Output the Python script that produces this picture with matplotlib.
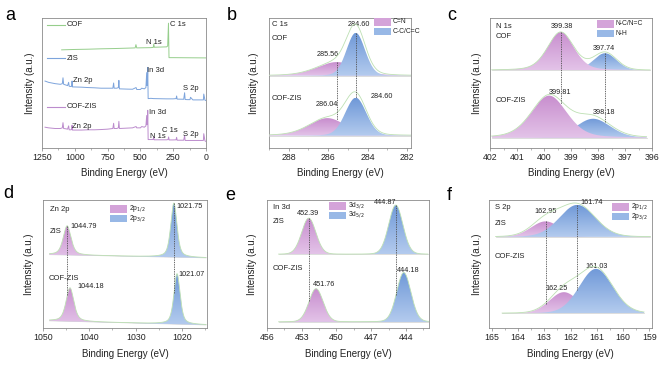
import numpy as np
import matplotlib
matplotlib.use("Agg")
import matplotlib.pyplot as plt
from matplotlib.colors import LinearSegmentedColormap
from matplotlib.patches import PathPatch, Rectangle
from matplotlib.path import Path

plt.rcParams['font.family'] = ['Liberation Sans', 'DejaVu Sans']

# --- (a) survey spectra: binding energy (eV) / intensity (a.u.) ---
SURVEY_NAMES = ['COF', 'ZIS', 'COF-ZIS']
COF_E = [1100, 1000, 900, 800, 700, 600, 540, 534, 528, 420, 402, 398, 394, 300, 292, 286, 282, 250, 0]
COF_I = [75.5, 75.8, 76.0, 76.3, 76.5, 76.8, 77.0, 79.5, 77.0, 77.2, 77.4, 80.0, 77.5, 77.8, 78.5, 96.0, 69.5, 69.5, 69.3]
ZIS_E = [1227, 1200, 1150, 1110, 1095, 1090, 1085, 1070, 1055, 1047, 1043, 1030, 1024, 1021, 1018,
         950, 900, 850, 800, 750, 710, 704, 700, 680, 668, 664, 660, 600, 560, 533, 528, 500, 490,
         470, 458, 452, 449, 446, 444, 441, 420, 400, 300, 250, 228, 224, 220, 170, 163, 159, 140,
         122, 118, 100, 30, 20, 17, 8, 0]
ZIS_I = [51.5, 50.5, 49.5, 49.0, 49.5, 54.0, 49.0, 48.5, 48.0, 50.5, 47.5, 47.3, 47.5, 51.5, 47.0,
         46.8, 46.5, 46.3, 46.0, 46.0, 46.0, 50.0, 46.0, 46.0, 46.5, 52.0, 45.5, 45.3, 45.2, 46.5, 45.0, 45.0, 46.0,
         45.5, 46.5, 58.0, 48.0, 52.0, 62.0, 38.0, 38.2, 38.0, 37.8, 37.8, 38.0, 40.0, 37.6, 37.5, 42.5, 37.3, 37.2,
         37.2, 39.0, 37.0, 37.0, 37.0, 41.5, 36.8, 36.5]
CZ_E = [1227, 1200, 1150, 1110, 1095, 1090, 1085, 1070, 1055, 1047, 1043, 1030, 1024, 1021, 1018,
        950, 900, 850, 800, 750, 710, 704, 700, 680, 668, 664, 660, 600, 560, 533, 528, 500, 490,
        470, 458, 452, 449, 446, 444, 441, 420, 403, 399, 395, 300, 289, 285, 281, 250, 228, 224, 220,
        170, 163, 159, 140, 30, 20, 17, 8, 0]
CZ_I = [16.0, 15.5, 15.0, 15.0, 15.5, 19.5, 15.0, 14.8, 14.5, 17.0, 14.0, 14.0, 14.2, 17.5, 13.8,
        13.8, 14.0, 14.0, 14.2, 14.5, 15.0, 19.0, 15.0, 15.0, 15.5, 20.5, 15.0, 15.3, 15.5, 16.5, 15.5, 15.5, 16.5,
        16.0, 17.0, 25.0, 18.0, 20.0, 29.0, 6.5, 6.5, 6.5, 8.5, 6.3, 6.3, 6.5, 8.5, 6.2, 6.2, 6.3, 8.2, 6.0,
        6.0, 9.5, 5.8, 5.8, 5.8, 5.8, 11.0, 5.5, 5.0]
SURVEY_TICKS = [1250, 1000, 750, 500, 250, 0]

# --- (b)-(f) fitted high resolution spectra: [top sample, bottom sample] x [pink, blue] ---
C1S_SAMPLES = ['COF', 'COF-ZIS']
C1S_LABELS = ['C=N', 'C-C/C=C']
C1S_CENTERS = [[285.56, 284.60], [286.04, 284.60]]
C1S_HEIGHTS = [[10.5, 33.0], [13.5, 29.2]]
C1S_FWHM = [[2.4, 1.1], [2.2, 1.25]]
C1S_ETA = [[0.3, 0.1], [0.3, 0.1]]
C1S_BG = [[55.6, 55.6], [9.5, 9.5]]
C1S_RANGE = [[289.0, 281.8], [289.0, 281.8]]
C1S_TICKS = [288, 286, 284, 282]

N1S_SAMPLES = ['COF', 'COF-ZIS']
N1S_LABELS = ['N-C/N=C', 'N-H']
N1S_CENTERS = [[399.38, 397.74], [399.81, 398.18]]
N1S_HEIGHTS = [[29.5, 13.2], [32.5, 14.7]]
N1S_FWHM = [[1.15, 1.0], [1.55, 1.5]]
N1S_ETA = [[0.3, 0.1], [0.3, 0.2]]
N1S_BG = [[59.7, 59.7], [7.8, 7.8]]
N1S_RANGE = [[401.94, 396.07], [401.94, 396.2]]
N1S_TICKS = [402, 401, 400, 399, 398, 397, 396]

ZN_SAMPLES = ['ZIS', 'COF-ZIS']
ZN_LABELS = ['2p$_{1/2}$', '2p$_{3/2}$']
ZN_CENTERS = [[1044.79, 1021.75], [1044.18, 1021.07]]
ZN_HEIGHTS = [[22.8, 42.3], [26.2, 39.4]]
ZN_FWHM = [[2.0, 1.6], [2.0, 1.6]]
ZN_ETA = [[0.5, 0.5], [0.5, 0.5]]
ZN_BG = [[57.3, 54.8], [5.6, 2.4]]
ZN_RANGE = [[1048.6, 1014.8], [1048.6, 1014.8]]
ZN_TICKS = [1050, 1040, 1030, 1020]

IN_SAMPLES = ['ZIS', 'COF-ZIS']
IN_LABELS = ['3d$_{3/2}$', '3d$_{5/2}$']
IN_CENTERS = [[452.39, 444.87], [451.76, 444.18]]
IN_HEIGHTS = [[28.3, 38.5], [26.0, 38.6]]
IN_FWHM = [[1.45, 1.45], [1.45, 1.45]]
IN_ETA = [[0.1, 0.1], [0.1, 0.1]]
IN_BG = [[57.5, 57.5], [4.7, 4.7]]
IN_RANGE = [[455.0, 442.1], [455.0, 442.0]]
IN_TICKS = [456, 453, 450, 447, 444]

S_SAMPLES = ['ZIS', 'COF-ZIS']
S_LABELS = ['2p$_{1/2}$', '2p$_{3/2}$']
S_CENTERS = [[162.95, 161.74], [162.25, 161.03]]
S_HEIGHTS = [[12.1, 25.0], [16.6, 34.8]]
S_FWHM = [[1.3, 1.6], [1.3, 1.5]]
S_ETA = [[0.1, 0.1], [0.1, 0.1]]
S_BG = [[71.2, 71.2], [11.4, 11.4]]
S_RANGE = [[164.85, 158.96], [164.6, 159.2]]
S_TICKS = [165, 164, 163, 162, 161, 160, 159]

# --- colours ---
PINK_TOP, PINK_BOT = '#C88ECE', '#E3C3E8'
BLUE_TOP, BLUE_BOT = '#7099D8', '#B3CBEE'
PINK_LEG, BLUE_LEG = '#D4A3D9', '#98B8E6'
ENV_C = '#BDE0B3'
SURVEY_COLORS = ['#96CE8C', '#7DA4DC', '#BC8CCD']

W, H = 667, 369
fig = plt.figure(figsize=(W / 100, H / 100), dpi=100)


def add_axes(frame):
    l, t, r, b = frame
    return fig.add_axes([l / W, 1 - b / H, (r - l) / W, (b - t) / H])


def put(ax, frame, x, y, s, size=5.5, ha='left', color='#222222'):
    l, t, r, b = frame
    ax.text((x - l) / (r - l), (b - y) / (b - t), s, transform=ax.transAxes,
            fontsize=size, ha=ha, va='center', color=color, clip_on=False)


def style(ax, frame, xlim, ticks, minor, ylab_x):
    ax.set_xlim(*xlim)
    ax.set_ylim(0, 100)
    ax.set_xticks(ticks)
    ax.set_xticklabels([str(t) for t in ticks])
    ax.set_xticks(minor, minor=True)
    ax.set_yticks([])
    ax.tick_params(axis='x', which='major', length=2.2, width=0.5, direction='out',
                   labelsize=6.3, pad=1.5, color='#808080', labelcolor='#222222')
    ax.tick_params(axis='x', which='minor', length=1.3, width=0.4, direction='out', color='#808080')
    for s in ax.spines.values():
        s.set_linewidth(0.6)
        s.set_color('#8A8A8A')
    l, t, r, b = frame
    yl = 173 if b < 200 else 354
    fig.text((l + r) / 2 / W, 1 - yl / H, 'Binding Energy (eV)', fontsize=7,
             ha='center', va='center', color='#222222')
    fig.text(ylab_x / W, 1 - (t + b) / 2 / H, 'Intensity (a.u.)', fontsize=7,
             rotation=90, ha='center', va='center', color='#222222')


def pv(x, c, h, w, eta):
    d = (x - c) / w
    return h * (eta / (1 + 4 * d ** 2) + (1 - eta) * np.exp(-4 * np.log(2) * d ** 2))


def grad_fill(ax, x, lo, hi, ctop, cbot, z):
    verts = np.concatenate([np.column_stack([x, hi]), np.column_stack([x[::-1], lo[::-1]])])
    patch = PathPatch(Path(verts), facecolor='none', edgecolor='none', transform=ax.transData)
    ax.add_patch(patch)
    cmap = LinearSegmentedColormap.from_list('g', [cbot, ctop])
    im = ax.imshow(np.linspace(0, 1, 64)[:, None], cmap=cmap, origin='lower', aspect='auto',
                   extent=[x.min(), x.max(), lo.min(), hi.max()], zorder=z, interpolation='bilinear')
    im.set_clip_path(patch)


def spectrum(ax, rng, bg, cs, hs, ws, es, base_z):
    x = np.linspace(rng[0], rng[1], 600)
    b = bg[0] + (bg[1] - bg[0]) * (x - rng[0]) / (rng[1] - rng[0])
    comps = [pv(x, c, h, w, e) for c, h, w, e in zip(cs, hs, ws, es)]
    order = np.argsort(hs)
    cols = [(PINK_TOP, PINK_BOT), (BLUE_TOP, BLUE_BOT)]
    ax.plot(x, b, color='#CFCFCF', lw=0.5, zorder=base_z)
    for k, i in enumerate(order):
        grad_fill(ax, x, b, b + comps[i], cols[i][0], cols[i][1], base_z + 1 + k)
    ax.plot(x, b + sum(comps), color=ENV_C, lw=0.6, zorder=base_z + 4)


def bg_at(rng, bg, x):
    return bg[0] + (bg[1] - bg[0]) * (x - rng[0]) / (rng[1] - rng[0])


def fitted_panel(frame, xlim, ticks, minor, ylab_x, letter, letter_xy, samples, labels,
                 centers, heights, fwhm, eta, bg, rng, title_xy, sample_xy, value_xy, value_ha,
                 leg_xy):
    ax = add_axes(frame)
    for s in range(2):
        spectrum(ax, rng[s], bg[s], centers[s], heights[s], fwhm[s], eta[s], 2 + s * 6)
    # dashed guide lines through the top-sample peak positions
    for k in range(2):
        c = centers[0][k]
        y0 = bg_at(rng[0], bg[0], c) + pv(c, centers[0][k], heights[0][k], fwhm[0][k], eta[0][k])
        y1 = bg_at(rng[1], bg[1], c) + pv(c, centers[1][k], heights[1][k], fwhm[1][k], eta[1][k])
        ax.plot([c, c], [y0, y1], color='#505050', lw=0.6, ls=(0, (1.6, 1.2)), zorder=20)
    style(ax, frame, xlim, ticks, minor, ylab_x)
    put(ax, frame, title_xy[0], title_xy[1], title_xy[2])
    for s in range(2):
        put(ax, frame, sample_xy[s][0], sample_xy[s][1], samples[s])
        for k in range(2):
            vx, vy = value_xy[s][k]
            put(ax, frame, vx, vy, f'{centers[s][k]:.2f}', size=5.2, ha=value_ha)
    lx, ly = leg_xy
    l, t, r, b = frame
    for k, col in enumerate([PINK_LEG, BLUE_LEG]):
        y_top = ly + k * 9.6
        ax.add_patch(Rectangle(((lx - l) / (r - l), (b - y_top - 7.6) / (b - t)), 17 / (r - l), 7.6 / (b - t),
                               transform=ax.transAxes, facecolor=col, edgecolor='none', clip_on=False, zorder=25))
        put(ax, frame, lx + 19, y_top + 3.6, labels[k], size=4.9)
    fig.text(letter_xy[0] / W, 1 - letter_xy[1] / H, letter, fontsize=13, ha='left', va='baseline')
    return ax


# --- (a) survey ---
FA = (42, 18, 206, 148)
ax = add_axes(FA)
for E, I, c in zip([COF_E, ZIS_E, CZ_E], [COF_I, ZIS_I, CZ_I], SURVEY_COLORS):
    ax.plot(E, I, color=c, lw=0.7)
style(ax, FA, (1250, 0), SURVEY_TICKS, [1125, 875, 625, 375, 125], 30)
for name, c, y in zip(SURVEY_NAMES, SURVEY_COLORS, [25, 58, 107]):
    ax.plot([(47 - FA[0]) / 164, (65 - FA[0]) / 164], [(148 - y) / 130] * 2, color=c, lw=0.8,
            transform=ax.transAxes)
    put(ax, FA, 67, y, name)
for s, x, y in [('C 1s', 170, 25), ('N 1s', 146, 43), ('Zn 2p', 73, 80), ('In 3d', 147, 70),
                ('S 2p', 183, 89), ('Zn 2p', 72, 126), ('In 3d', 149, 112), ('N 1s', 150, 137),
                ('C 1s', 162, 130), ('S 2p', 183, 134)]:
    put(ax, FA, x, y, s)
fig.text(5 / W, 1 - 20 / H, 'a', fontsize=13, ha='left', va='baseline')

# --- (b) C 1s ---
fitted_panel((269, 18, 411, 148), (289, 281.8), C1S_TICKS, [289, 287, 285, 283], 254, 'b', (227, 20),
             C1S_SAMPLES, C1S_LABELS, C1S_CENTERS, C1S_HEIGHTS, C1S_FWHM, C1S_ETA, C1S_BG, C1S_RANGE,
             (272, 24, 'C 1s'), [(272, 38), (272, 99)], [[(328, 54), (359, 24)], [(327, 104), (382, 96)]],
             'center', (374, 18))

# --- (c) N 1s ---
fitted_panel((490, 18, 652, 148), (402, 396), N1S_TICKS, list(np.arange(396.5, 402, 1.0)), 477, 'c', (447, 20),
             N1S_SAMPLES, N1S_LABELS, N1S_CENTERS, N1S_HEIGHTS, N1S_FWHM, N1S_ETA, N1S_BG, N1S_RANGE,
             (496, 26, 'N 1s'), [(496, 37), (496, 101)], [[(562, 27), (604, 49)], [(560, 92), (604, 113)]],
             'center', (597, 20))

# --- (d) Zn 2p ---
fitted_panel((43, 200, 207, 328), (1050, 1014.6), ZN_TICKS, [1045, 1035, 1025, 1015], 29, 'd', (3, 198),
             ZN_SAMPLES, ZN_LABELS, ZN_CENTERS, ZN_HEIGHTS, ZN_FWHM, ZN_ETA, ZN_BG, ZN_RANGE,
             (50, 210, 'Zn 2p'), [(50, 232), (49, 279)], [[(70, 227), (176, 207)], [(77, 286), (178, 275)]],
             'left', (110, 205))

# --- (e) In 3d ---
fitted_panel((267, 200, 429, 328), (456, 442), IN_TICKS, [454.5, 451.5, 448.5, 445.5, 442.5], 252, 'e', (225, 200),
             IN_SAMPLES, IN_LABELS, IN_CENTERS, IN_HEIGHTS, IN_FWHM, IN_ETA, IN_BG, IN_RANGE,
             (273, 208, 'In 3d'), [(273, 222), (273, 269)], [[(308, 214), (385, 203)], [(324, 284), (408, 270)]],
             'center', (329, 202))

# --- (f) S 2p ---
fitted_panel((489, 200, 652, 328), (165.1, 158.9), S_TICKS, list(np.arange(159.5, 165, 1.0)), 477, 'f', (447, 200),
             S_SAMPLES, S_LABELS, S_CENTERS, S_HEIGHTS, S_FWHM, S_ETA, S_BG, S_RANGE,
             (495, 208, 'S 2p'), [(495, 224), (495, 257)], [[(546, 212), (592, 203)], [(557, 288), (597, 267)]],
             'center', (612, 203))

fig.savefig('out.png', dpi=100)
